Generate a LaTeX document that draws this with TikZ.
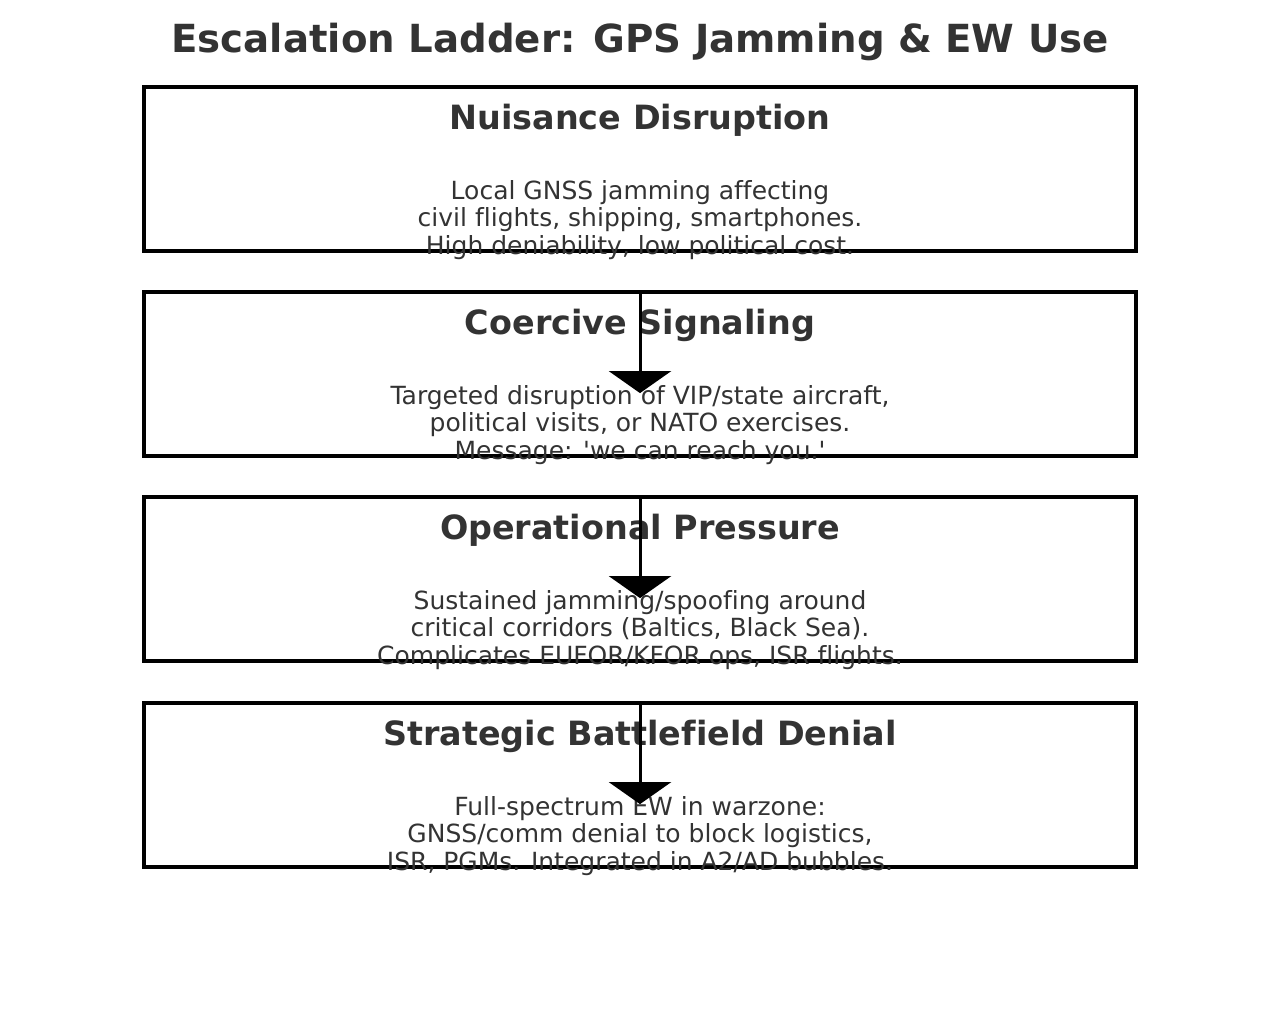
\documentclass[tikz,border=0pt]{standalone}
\usepackage{fontspec}
\setmainfont{DejaVu Sans}[Ligatures={TeXOff,NoCommon}]
\usetikzlibrary{arrows.meta}
\definecolor{txt}{HTML}{333333}
\begin{document}
\begin{tikzpicture}[x=1pt,y=-1pt,
  box/.style={draw=black,line width=3.8pt,minimum width=992pt,minimum height=164pt,inner sep=0pt},
  ttl/.style={text=txt,font=\fontsize{33.4}{38}\selectfont\bfseries,inner sep=0pt,anchor=base},
  body/.style={text=txt,font=\fontsize{25}{27.6}\selectfont,align=center,inner sep=0pt},
  arr/.style={draw=black,line width=3pt,-{Triangle[width=62pt,length=22pt]}}]
\useasboundingbox[fill=white] (0,0) rectangle (1280,1010);
\node[text=txt,font=\fontsize{38.7}{44}\selectfont\bfseries,inner sep=0pt,anchor=base] (title) at (640,52) {Escalation Ladder: GPS Jamming \& EW Use};
\foreach \i/\y/\t/\b in {
 1/87/{Nuisance Disruption}/{Local GNSS jamming affecting\\civil flights, shipping, smartphones.\\High deniability, low political cost.},
 2/292/{Coercive Signaling}/{Targeted disruption of VIP/state aircraft,\\political visits, or NATO exercises.\\Message: 'we can reach you.'},
 3/497/{Operational Pressure}/{Sustained jamming/spoofing around\\critical corridors (Baltics, Black Sea).\\Complicates EUFOR/KFOR ops, ISR flights.},
 4/703/{Strategic Battlefield Denial}/{Full-spectrum EW in warzone:\\GNSS/comm denial to block logistics,\\ISR, PGMs. Integrated in A2/AD bubbles.}}{
  \node[box] (b\i) at (640,\y+82) {};
  \node[ttl] (t\i) at (640,\y+42) {\t};
  \node[body] (d\i) at (640,\y+133) {\b};
}
\foreach \i in {2,3,4}{
  \coordinate (e\i) at ([yshift=-103pt]b\i.north);
  \draw[arr] (b\i.north) -- (e\i);
}
\end{tikzpicture}
\end{document}
